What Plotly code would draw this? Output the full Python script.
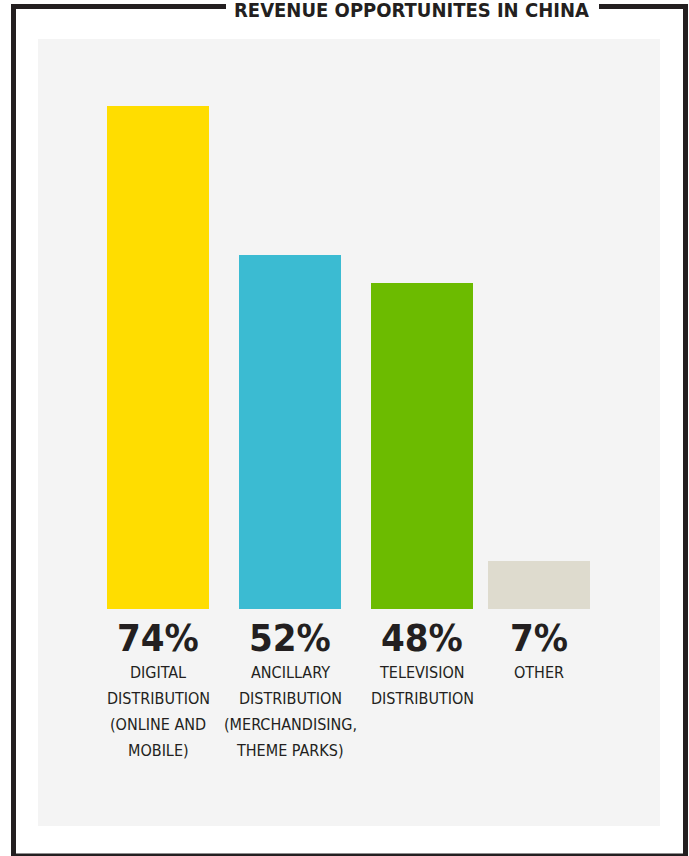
import plotly.graph_objects as go

W, H = 689, 856

title = "REVENUE OPPORTUNITES IN CHINA"
categories = ["Digital", "Ancillary", "Television", "Other"]
values = [74, 52, 48, 7]
value_labels = ["74%", "52%", "48%", "7%"]
descriptions = [
    ["DIGITAL", "DISTRIBUTION", "(ONLINE AND", "MOBILE)"],
    ["ANCILLARY", "DISTRIBUTION", "(MERCHANDISING,", "THEME PARKS)"],
    ["TELEVISION", "DISTRIBUTION"],
    ["OTHER"],
]
colors = ["#FFDD00", "#3BBBD2", "#6CBB00", "#DEDBCE"]

INK = "#231F20"
NARROW = "DejaVu Sans Condensed, DejaVu Sans, sans-serif"

def px_x(p):
    return p / W

def px_y(p):
    return 1 - p / H

fig = go.Figure()
fig.add_trace(go.Bar(
    x=categories,
    y=values,
    marker=dict(color=colors, line=dict(width=0)),
    width=0.773,
    offset=[-0.386, -0.386, -0.386, -0.5],
    hoverinfo="skip",
))

shapes = []
# grey panel
shapes.append(dict(type="rect", xref="paper", yref="paper",
                   x0=px_x(38), x1=px_x(660), y0=px_y(826), y1=px_y(39),
                   fillcolor="#F4F4F4", line=dict(width=0), layer="below"))
# frame
lw = 5
frame_line = dict(color=INK, width=lw)
shapes += [
    dict(type="line", xref="paper", yref="paper", x0=px_x(13.5), x1=px_x(13.5),
         y0=px_y(4), y1=px_y(860), line=frame_line),
    dict(type="line", xref="paper", yref="paper", x0=px_x(685.5), x1=px_x(685.5),
         y0=px_y(4), y1=px_y(860), line=frame_line),
    dict(type="line", xref="paper", yref="paper", x0=px_x(11), x1=px_x(226),
         y0=px_y(6.5), y1=px_y(6.5), line=frame_line),
    dict(type="line", xref="paper", yref="paper", x0=px_x(599), x1=px_x(688),
         y0=px_y(6.5), y1=px_y(6.5), line=frame_line),
    dict(type="line", xref="paper", yref="paper", x0=px_x(11), x1=px_x(688),
         y0=px_y(855), y1=px_y(855), line=dict(color=INK, width=3)),
]

annotations = [dict(
    text="<b>" + title + "</b>", xref="paper", yref="paper",
    x=px_x(411), y=px_y(10), xanchor="center", yanchor="middle",
    showarrow=False, font=dict(family=NARROW, size=20, color=INK),
)]

shift = [0, 0, 0, -0.114]
for i, cat in enumerate(categories):
    xc = i + shift[i]
    annotations.append(dict(
        text="<b>" + value_labels[i] + "</b>", x=xc, xref="x",
        y=px_y(638), yref="paper", xanchor="center", yanchor="middle",
        showarrow=False, font=dict(family=NARROW, size=38, color=INK),
    ))
    for j, line in enumerate(descriptions[i]):
        annotations.append(dict(
            text=line, x=xc, xref="x",
            y=px_y(672 + 26 * j), yref="paper", xanchor="center", yanchor="middle",
            showarrow=False, font=dict(family=NARROW, size=16, color=INK),
        ))

fig.update_layout(
    width=W, height=H,
    margin=dict(l=0, r=0, t=0, b=0),
    paper_bgcolor="white",
    plot_bgcolor="rgba(0,0,0,0)",
    showlegend=False,
    bargap=0,
    xaxis=dict(domain=[px_x(92), px_x(620)], range=[-0.5, 3.5], type="category",
               showticklabels=False, showgrid=False, zeroline=False, showline=False,
               fixedrange=True),
    yaxis=dict(domain=[px_y(609), px_y(39)], range=[0, 83.8], showticklabels=False,
               showgrid=False, zeroline=False, showline=False, fixedrange=True),
    shapes=shapes,
    annotations=annotations,
)

fig.write_html(
    "out.html",
    config={"displayModeBar": False},
    post_script="document.body.style.margin='0';document.body.style.overflow='hidden';",
)
